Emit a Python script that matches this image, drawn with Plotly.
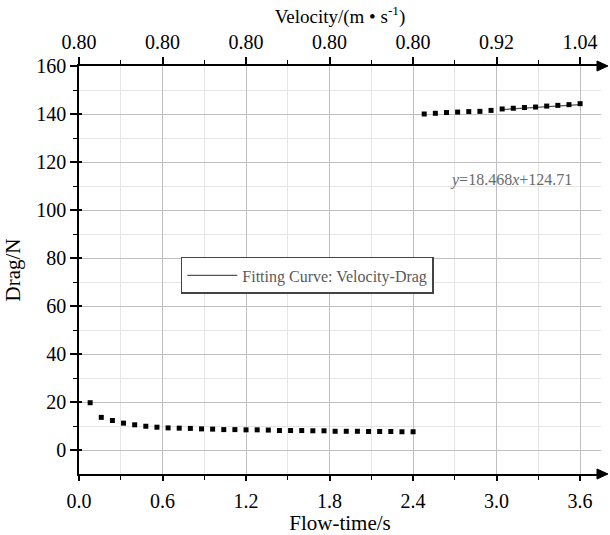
import plotly.graph_objects as go

# ---- data ----
time_low = [0.08, 0.16, 0.24, 0.32, 0.40, 0.48, 0.56, 0.64, 0.72, 0.80,
            0.88, 0.96, 1.04, 1.12, 1.20, 1.28, 1.36, 1.44, 1.52, 1.60,
            1.68, 1.76, 1.84, 1.92, 2.00, 2.08, 2.16, 2.24, 2.32, 2.40]
drag_low = [19.7, 13.6, 12.3, 11.2, 10.5, 9.9, 9.5, 9.2, 9.1, 9.0,
            8.8, 8.7, 8.5, 8.5, 8.4, 8.4, 8.3, 8.1, 8.1, 8.1,
            8.0, 8.0, 7.8, 7.8, 7.8, 7.7, 7.7, 7.7, 7.6, 7.6]
time_high = [2.48, 2.56, 2.64, 2.72, 2.80, 2.88, 2.96, 3.04, 3.12, 3.20,
             3.28, 3.36, 3.44, 3.52, 3.60]
drag_high = [140.0, 140.3, 140.6, 140.8, 141.0, 141.1, 141.5, 142.1, 142.4, 142.7,
             142.9, 143.3, 143.6, 143.9, 144.3]

time_ticks = [0.0, 0.6, 1.2, 1.8, 2.4, 3.0, 3.6]
time_tick_text = ["0.0", "0.6", "1.2", "1.8", "2.4", "3.0", "3.6"]
velocity_tick_text = ["0.80", "0.80", "0.80", "0.80", "0.80", "0.92", "1.04"]
drag_ticks = [0, 20, 40, 60, 80, 100, 120, 140, 160]
fit_slope = 18.468
fit_intercept = 124.71

# fitted line drawn over the part where velocity rises (3.0 s -> 3.6 s, 0.92 -> 1.04 m/s)
fit_time = [t for t in time_high if t >= 3.0]
fit_vel = [0.92 + (t - 3.0) * (1.04 - 0.92) / (3.6 - 3.0) for t in fit_time]
fit_drag = [fit_slope * v + fit_intercept for v in fit_vel]

FONT = "Liberation Serif"
GRID_MAJOR = "#bfbfbf"
GRID_MINOR = "#e4e4e4"
MINOR_X = [0.3, 0.9, 1.5, 2.1, 2.7, 3.3]
MINOR_Y = [10, 30, 50, 70, 90, 110, 130, 150]

fig = go.Figure()
fig.add_trace(go.Scatter(x=fit_time, y=fit_drag, mode="lines",
                         line=dict(color="#555555", width=1.2),
                         name="Fitting Curve: Velocity-Drag", showlegend=True))
fig.add_trace(go.Scatter(x=time_low, y=drag_low, mode="markers",
                         marker=dict(symbol="square", size=5, color="black"),
                         showlegend=False))
fig.add_trace(go.Scatter(x=time_high, y=drag_high, mode="markers",
                         marker=dict(symbol="square", size=5, color="black"),
                         showlegend=False))
fig.add_trace(go.Scatter(x=[0], y=[0], xaxis="x2", yaxis="y2", mode="markers",
                         marker=dict(opacity=0), showlegend=False, hoverinfo="skip"))

xr = [0, 3.75]
yr = [-10, 160]

fig.update_layout(
    width=610, height=535,
    margin=dict(l=79, r=9, t=66, b=61),
    paper_bgcolor="white", plot_bgcolor="white",
    font=dict(family=FONT, size=20, color="black"),
    showlegend=True,
    legend=dict(x=0.195, y=0.532, xanchor="left", yanchor="top",
                bordercolor="#444444", borderwidth=1.5, bgcolor="white",
                itemwidth=50,
                font=dict(family=FONT, size=16, color="#5a5a5a")),
    xaxis=dict(range=xr, tickmode="array", tickvals=time_ticks, ticktext=time_tick_text,
               automargin=False,
               showline=True, linecolor="black", linewidth=1.5,
               ticks="outside", ticklen=5, tickwidth=1.5, tickcolor="black",
               ticklabelstandoff=3,
               showgrid=True, gridcolor=GRID_MAJOR, gridwidth=1, zeroline=False,
               minor=dict(tickvals=MINOR_X, ticks="outside",
                          ticklen=4, tickwidth=1.2, tickcolor="black",
                          showgrid=True, gridcolor=GRID_MINOR),
               title=dict(text="Flow-time/s", standoff=1, font=dict(size=21)),
               anchor="y"),
    xaxis2=dict(range=xr, overlaying="x", side="top", anchor="y", automargin=False,
                tickmode="array", tickvals=time_ticks, ticktext=velocity_tick_text,
                showline=True, linecolor="black", linewidth=1.5,
                ticks="outside", ticklen=7, tickwidth=1.5, tickcolor="black",
                showgrid=False, zeroline=False,
                minor=dict(tickvals=MINOR_X, ticks="outside",
                           ticklen=4, tickwidth=1.2, tickcolor="black"),
                title=dict(text="Velocity/(m • s<sup>-1</sup>)", standoff=3,
                           font=dict(size=19))),
    yaxis=dict(range=yr, tickmode="array", tickvals=drag_ticks,
               automargin=False,
               showline=True, linecolor="black", linewidth=1.5,
               ticks="outside", ticklen=7, tickwidth=1.5, tickcolor="black",
               showgrid=True, gridcolor=GRID_MAJOR, zeroline=False,
               minor=dict(tickvals=MINOR_Y, ticks="outside",
                          ticklen=4, tickwidth=1.2, tickcolor="black",
                          showgrid=True, gridcolor=GRID_MINOR),
               title=dict(text="Drag/N", standoff=10, font=dict(size=21))),
    # overlay axis giving the short inward part of the crossing y ticks
    yaxis2=dict(range=yr, overlaying="y", side="left", anchor="x", automargin=False,
                tickmode="array", tickvals=drag_ticks, showticklabels=False,
                ticks="inside", ticklen=3, tickwidth=1.5, tickcolor="black",
                showline=False, showgrid=False, zeroline=False),
)

for ya in (0, 1):
    fig.add_shape(type="path", xref="paper", yref="paper",
                  xsizemode="pixel", ysizemode="pixel", xanchor=1, yanchor=ya,
                  path="M -4,-5 L 7,0 L -4,5 Z", fillcolor="black",
                  line=dict(color="black", width=1))

fig.add_annotation(x=3.107, y=112.6, xref="x", yref="y", showarrow=False,
                   text="<i>y</i>=18.468<i>x</i>+124.71",
                   font=dict(family=FONT, size=16, color="#6a6a6a"))

fig.write_html("out.html",
               config={"displayModeBar": False},
               post_script="document.body.style.margin='0';document.body.style.overflow='hidden';")
